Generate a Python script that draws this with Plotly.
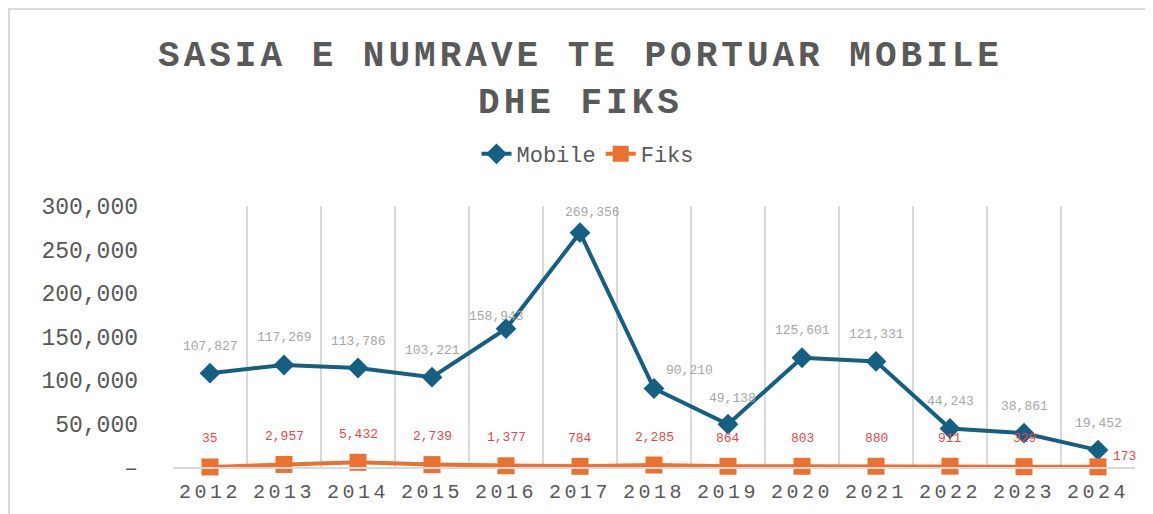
import plotly.graph_objects as go

years = ["2012", "2013", "2014", "2015", "2016", "2017", "2018",
         "2019", "2020", "2021", "2022", "2023", "2024"]
mobile = [107827, 117269, 113786, 103221, 158943, 269356, 90210,
          49138, 125601, 121331, 44243, 38861, 19452]
fiks = [35, 2957, 5432, 2739, 1377, 784, 2285, 864, 803, 880, 911, 329, 173]

y_ticks = [0, 50000, 100000, 150000, 200000, 250000, 300000]
y_ticktext = ["–"] + [f"{v:,}" for v in y_ticks[1:]]

# label nudges (xshift, yshift) in px
mobile_shift = {"2016": (-10, 12), "2017": (12, 20), "2018": (35, 18), "2019": (4, 26)}
fiks_shift = {"2024": (26, 10)}

FONT = "Liberation Mono, Courier New, monospace"
BLUE = "#156082"
ORANGE = "#E97132"

# page body has an 8px margin, so the figure is 8px smaller than the window
W, H = 1145, 506


def spaced(txt, px):
    return f'<span style="letter-spacing:{px}px">{txt}</span>'


fig = go.Figure()
fig.add_trace(go.Scatter(
    x=years, y=mobile, name="Mobile", mode="lines+markers",
    line=dict(color=BLUE, width=4),
    marker=dict(symbol="diamond", size=16, color=BLUE),
    cliponaxis=False,
))
fig.add_trace(go.Scatter(
    x=years, y=fiks, name="Fiks", mode="lines+markers",
    line=dict(color=ORANGE, width=4),
    marker=dict(symbol="square", size=17, color=ORANGE),
    cliponaxis=False,
))

# annotations use the category index, a "2012" string would be read as a number
for i, (yr, v) in enumerate(zip(years, mobile)):
    dx, dy = mobile_shift.get(yr, (0, 27))
    fig.add_annotation(x=i, y=v, text=f"{v:,}", showarrow=False,
                       xshift=dx, yshift=dy,
                       font=dict(family=FONT, size=13, color="#a6a6a6"))
for i, (yr, v) in enumerate(zip(years, fiks)):
    dx, dy = fiks_shift.get(yr, (0, 28))
    fig.add_annotation(x=i, y=v, text=f"{v:,}", showarrow=False,
                       xshift=dx, yshift=dy,
                       font=dict(family=FONT, size=13, color="#e8474c"))

# outer chart border
fig.add_shape(type="rect", xref="paper", yref="paper",
              x0=-0.1705, x1=2, y0=-1, y1=1.7548,
              line=dict(color="#d9d9d9", width=2), fillcolor="rgba(0,0,0,0)")

fig.update_layout(
    width=W, height=H,
    margin=dict(l=165, r=18, t=198, b=47, autoexpand=False),
    paper_bgcolor="white", plot_bgcolor="white",
    font=dict(family=FONT, color="#595959"),
    title=dict(
        text=spaced("SASIA E NUMRAVE TE PORTUAR MOBILE", 4) + "<br>" + spaced("DHE FIKS", 4),
        x=0.5, xanchor="center", xref="container",
        y=1 - 58 / H, yanchor="top", yref="container",
        font=dict(family=FONT, size=36, color="#595959", weight="bold"),
    ),
    legend=dict(
        orientation="h", xref="container", yref="container",
        x=580 / W, xanchor="center", y=1 - 146 / H, yanchor="middle",
        font=dict(family=FONT, size=22, color="#595959"),
    ),
    showlegend=True,
)
fig.update_xaxes(
    type="category", range=[-0.5, 12.5], tickson="boundaries",
    tickvals=years, ticktext=[spaced(y, 3.5) for y in years],
    showgrid=True, gridcolor="#d9d9d9", gridwidth=1.5,
    showline=True, linecolor="#d9d9d9", linewidth=1.5,
    ticks="", tickangle=0, tickfont=dict(family=FONT, size=20, color="#595959"),
    ticklabelstandoff=5,
)
fig.update_yaxes(
    range=[0, 300000], tickvals=y_ticks, ticktext=y_ticktext,
    showgrid=False, zeroline=False, showline=False, ticks="",
    tickfont=dict(family=FONT, size=23, color="#595959"),
    ticklabelstandoff=34,
)

fig.write_html("out.html")
